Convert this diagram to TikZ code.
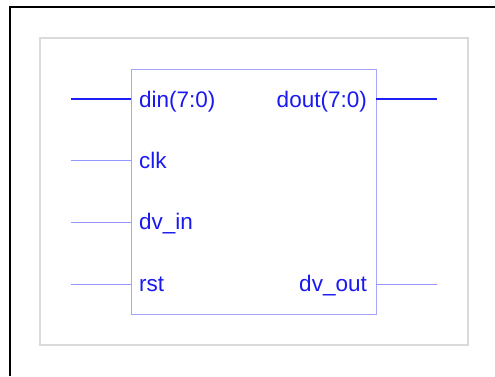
\documentclass[tikz,border=0pt]{standalone}
\usepackage{fontspec}
\setmainfont{Liberation Sans}
\definecolor{txtblue}{RGB}{25,25,240}
\definecolor{busblue}{RGB}{30,30,245}
\definecolor{thinblue}{RGB}{150,150,255}
\definecolor{boxblue}{RGB}{165,165,255}
\definecolor{framegray}{RGB}{218,218,218}
\begin{document}
\begin{tikzpicture}[x=1pt,y=-1pt,
  pinlabel/.style={inner sep=0pt,text=txtblue,font=\fontsize{22.5}{22.5}\selectfont},
  bus/.style={draw=busblue,line width=2pt},
  wire/.style={draw=thinblue,line width=1pt}]
\useasboundingbox (0,0) rectangle (495,376);
\fill[white] (0,0) rectangle (495,376);
% outer black frame
\draw[black,line width=2.2pt] (10,376) -- (10,7) -- (495,7);
% gray frame
\draw[framegray,line width=1.2pt] (40,38) rectangle (468,345);
% block
\node[draw=boxblue,line width=1pt,minimum width=245pt,minimum height=245pt,inner sep=0pt,anchor=north west] (blk) at (131,69) {};
% pin endpoints
\coordinate (pdin) at (131,99);
\coordinate (pclk) at (131,160);
\coordinate (pdvin) at (131,222);
\coordinate (prst) at (131,284);
\coordinate (pdout) at (376,99);
\coordinate (pdvout) at (376,284);
\coordinate (edin) at (71,99);
\coordinate (eclk) at (71,160);
\coordinate (edvin) at (71,222);
\coordinate (erst) at (71,284);
\coordinate (edout) at (437,99);
\coordinate (edvout) at (437,284);
% wires
\draw[bus] (edin) -- (pdin);
\draw[wire] (eclk) -- (pclk);
\draw[wire] (edvin) -- (pdvin);
\draw[wire] (erst) -- (prst);
\draw[bus] (pdout) -- (edout);
\draw[wire] (pdvout) -- (edvout);
% labels
\node[pinlabel,anchor=base west] (ldin) at (139,107) {din(7:0)};
\node[pinlabel,anchor=base west] (lclk) at (139,168) {clk};
\node[pinlabel,anchor=base west] (ldvin) at (139,229) {dv\_in};
\node[pinlabel,anchor=base west] (lrst) at (139,291) {rst};
\node[pinlabel,anchor=base east] (ldout) at (367,107) {dout(7:0)};
\node[pinlabel,anchor=base east] (ldvout) at (367,291) {dv\_out};
\end{tikzpicture}
\end{document}
